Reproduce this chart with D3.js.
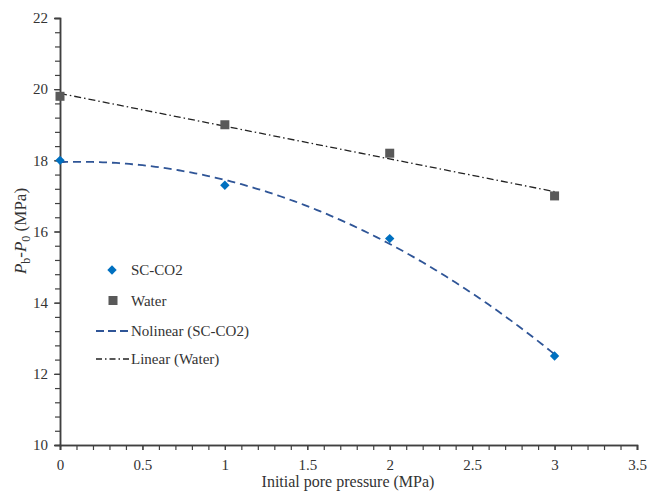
<!DOCTYPE html>
<html><head><meta charset="utf-8">
<script src="https://cdn.jsdelivr.net/npm/d3@7"></script>
</head><body style="margin:0">
<svg id="c" width="648" height="493"></svg>
<script>
const pressure = [0, 1, 2, 3];
const scco2 = [18.0, 17.3, 15.8, 12.5];
const water = [19.8, 19.0, 18.2, 17.0];
const xTicks = [0, 0.5, 1, 1.5, 2, 2.5, 3, 3.5];
const yTicks = [10, 12, 14, 16, 18, 20, 22];
const legendLabels = ["SC-CO2", "Water", "Nolinear (SC-CO2)", "Linear (Water)"];

const svg = d3.select("#c");
const x = d3.scaleLinear().domain([0, 3.5]).range([60, 637]);
const y = d3.scaleLinear().domain([10, 22]).range([445, 18]);
const axisColor = "#404040";

function txt(sel, size){ return sel.attr("font-family","Liberation Serif").attr("font-size",size).style("font-family","Liberation Serif").style("font-size",size+"px"); }

// least-squares trendlines computed from the data (as Excel does)
function polyfit2(xs, ys) {
  let S = [0,0,0,0,0], T = [0,0,0];
  xs.forEach((xv,i)=>{ for(let k=0;k<5;k++) S[k]+=Math.pow(xv,k); for(let k=0;k<3;k++) T[k]+=ys[i]*Math.pow(xv,k); });
  const M = [[S[0],S[1],S[2],T[0]],[S[1],S[2],S[3],T[1]],[S[2],S[3],S[4],T[2]]];
  for (let i=0;i<3;i++){ for(let j=i+1;j<3;j++){ const f=M[j][i]/M[i][i]; for(let k=i;k<4;k++) M[j][k]-=f*M[i][k]; } }
  const r=[0,0,0];
  for (let i=2;i>=0;i--){ let s=M[i][3]; for(let k=i+1;k<3;k++) s-=M[i][k]*r[k]; r[i]=s/M[i][i]; }
  return r;
}
function linfit(xs, ys) {
  const mx=d3.mean(xs), my=d3.mean(ys);
  const b=d3.sum(xs.map((v,i)=>(v-mx)*(ys[i]-my)))/d3.sum(xs.map(v=>(v-mx)*(v-mx)));
  return [my-b*mx, b];
}
const pc = polyfit2(pressure, scco2);
const lc = linfit(pressure, water);
const xs = d3.range(0, 3.0001, 0.02);
const line = d3.line().x(d=>x(d[0])).y(d=>y(d[1]));

const xAxis = d3.axisBottom(x).tickValues(xTicks).tickSize(5).tickFormat(d3.format("~g"));
const xMinor = d3.axisBottom(x).tickValues(d3.range(0, 3.5001, 0.1)).tickSize(5).tickFormat("");
const yAxis = d3.axisLeft(y).tickValues(yTicks).tickSize(6).tickFormat(d3.format("d"));
const yMinor = d3.axisLeft(y).tickValues(d3.range(10, 22.0001, 0.4)).tickSize(5).tickFormat("");

function styleAxis(g){
  g.attr("font-family", null).attr("font-size", null);
  g.select(".domain").attr("stroke", axisColor).attr("stroke-width", 1.5);
  g.selectAll(".tick line").attr("stroke", axisColor).attr("stroke-width", 1.2);
  txt(g.selectAll(".tick text"), 15).attr("fill", "#333");
}
svg.append("g").attr("transform","translate(0,445)").call(xMinor).call(styleAxis);
svg.append("g").attr("transform","translate(0,445)").call(xAxis).call(styleAxis).selectAll(".tick text").attr("dy","1.1em");
svg.append("g").attr("transform","translate(60,0)").call(yMinor).call(styleAxis);
svg.append("g").attr("transform","translate(60,0)").call(yAxis).call(styleAxis).selectAll(".tick text").attr("x",-12);

svg.append("path").datum(xs.map(v=>[v, pc[0]+pc[1]*v+pc[2]*v*v]))
  .attr("d", line).attr("fill","none").attr("stroke","#2F5597").attr("stroke-width",1.8).attr("stroke-dasharray","8,5");
svg.append("path").datum([[0, lc[0]], [3, lc[0]+lc[1]*3]])
  .attr("d", line).attr("fill","none").attr("stroke","#222").attr("stroke-width",1.3).attr("stroke-dasharray","7,3,1.5,3");

const diamond = d3.symbol().type(d3.symbolSquare).size(44);
svg.selectAll(".sc").data(pressure).enter().append("path")
  .attr("d", diamond).attr("transform",(d,i)=>`translate(${x(d)},${y(scco2[i])}) rotate(45)`).attr("fill","#0070C0");
svg.selectAll(".wt").data(pressure).enter().append("rect")
  .attr("x",d=>x(d)-4.5).attr("y",(d,i)=>y(water[i])-4.5).attr("width",9).attr("height",9).attr("fill","#595959");

const lg = svg.append("g");
const rowsY = [270, 300.5, 331, 359];
lg.append("path").attr("d", diamond).attr("transform",`translate(112,${rowsY[0]}) rotate(45)`).attr("fill","#0070C0");
lg.append("rect").attr("x",108.5).attr("y",rowsY[1]-4.5).attr("width",9).attr("height",9).attr("fill","#595959");
lg.append("line").attr("x1",96).attr("x2",129).attr("y1",rowsY[2]).attr("y2",rowsY[2]).attr("stroke","#2F5597").attr("stroke-width",1.8).attr("stroke-dasharray","8,4");
lg.append("line").attr("x1",96).attr("x2",129).attr("y1",rowsY[3]).attr("y2",rowsY[3]).attr("stroke","#222").attr("stroke-width",1.3).attr("stroke-dasharray","6,3,1.5,3");
legendLabels.forEach((t,i)=>{
  txt(lg.append("text").attr("x",131).attr("y",rowsY[i]).attr("dy","0.35em").text(t), 15).attr("fill","#333");
});

txt(svg.append("text").attr("x",348).attr("y",487).attr("text-anchor","middle").text("Initial pore pressure (MPa)"), 16).attr("fill","#333");
const yt = txt(svg.append("text").attr("transform","translate(26,231) rotate(-90)").attr("text-anchor","middle"), 17).attr("fill","#333");
yt.append("tspan").attr("font-style","italic").text("P");
yt.append("tspan").attr("dy",4).attr("font-size",12).style("font-size","12px").text("b");
yt.append("tspan").attr("dy",-4).text("-");
yt.append("tspan").attr("font-style","italic").text("P");
yt.append("tspan").attr("dy",4).attr("font-size",12).style("font-size","12px").text("0");
yt.append("tspan").attr("dy",-4).text(" (MPa)");
</script>
</body></html>
